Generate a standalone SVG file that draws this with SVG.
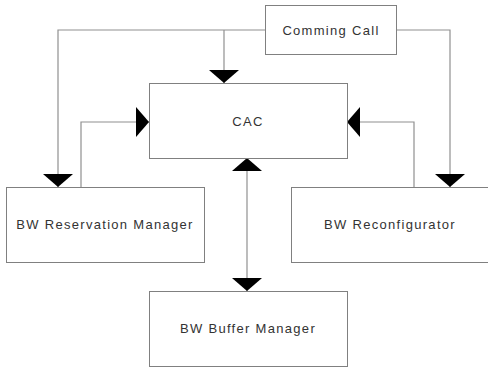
<svg xmlns="http://www.w3.org/2000/svg" width="488" height="370" viewBox="0 0 488 370">
<style>
.box{fill:#fff;stroke:#808080;stroke-width:1}
.lbl{font-family:"Liberation Sans",Arial,sans-serif;font-size:13px;fill:#333;text-anchor:middle;dominant-baseline:central;letter-spacing:1.3px}
.wire{fill:none;stroke:#909090;stroke-width:1.2}
</style>
<defs>
<marker id="ah" markerUnits="userSpaceOnUse" markerWidth="14" markerHeight="30" viewBox="0 -15 14 30" refX="13" refY="0" orient="auto-start-reverse">
<path d="M0,-15 L13,0 L0,15 Z" fill="#000"/>
</marker>
</defs>
<rect width="488" height="370" fill="#fff"/>
<g id="connectors">
<path class="wire" d="M265,30 H58 V187" marker-end="url(#ah)"/>
<path class="wire" d="M224,30 V83" marker-end="url(#ah)"/>
<path class="wire" d="M396,30 H450 V187" marker-end="url(#ah)"/>
<path class="wire" d="M81,187 V122 H149" marker-end="url(#ah)"/>
<path class="wire" d="M414,187 V122 H347" marker-end="url(#ah)"/>
<path class="wire" d="M247,158 V291" marker-start="url(#ah)" marker-end="url(#ah)"/>
</g>
<g id="comming-call">
<rect class="box" x="265.5" y="5.5" width="131" height="49"/>
<text class="lbl" x="331" y="30">Comming Call</text>
</g>
<g id="cac">
<rect class="box" x="149.5" y="83.5" width="198" height="75"/>
<text class="lbl" x="248" y="121">CAC</text>
</g>
<g id="bw-reservation-manager">
<rect class="box" x="6.5" y="187.5" width="198" height="75"/>
<text class="lbl" x="105" y="224">BW Reservation Manager</text>
</g>
<g id="bw-reconfigurator">
<rect class="box" x="291.5" y="187.5" width="198" height="75"/>
<text class="lbl" x="390" y="224">BW Reconfigurator</text>
</g>
<g id="bw-buffer-manager">
<rect class="box" x="149.5" y="291.5" width="198" height="75"/>
<text class="lbl" x="248" y="328">BW Buffer Manager</text>
</g>
</svg>
